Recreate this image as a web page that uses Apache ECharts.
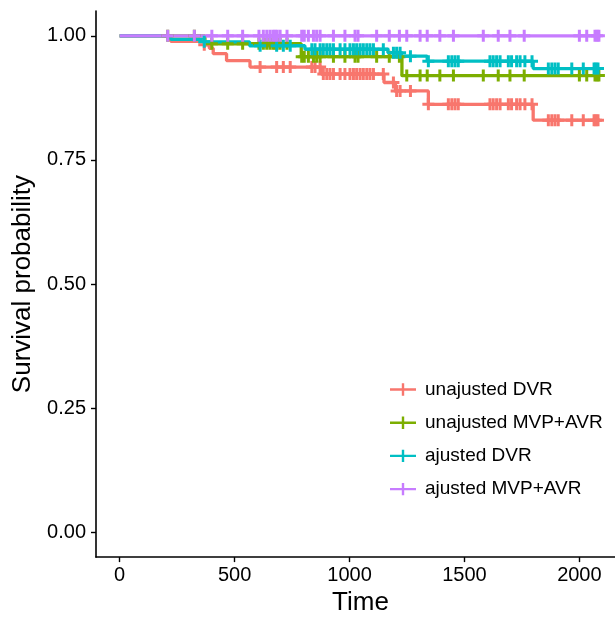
<!DOCTYPE html>
<html>
<head>
<meta charset="utf-8">
<script src="https://cdn.jsdelivr.net/npm/echarts@6/dist/echarts.min.js"></script>
<style>
html,body{margin:0;padding:0;background:#fff;overflow:hidden;}
#c{width:615px;height:621px;}
</style>
</head>
<body>
<div id="c"></div>
<script>
// Kaplan-Meier style step curves (time at which the new value starts, survival)
const seriesNames = ['unajusted DVR', 'unajusted MVP+AVR', 'ajusted DVR', 'ajusted MVP+AVR'];
const seriesColors = ['#F8766D', '#7CAE00', '#00BFC4', '#C77CFF'];

const redTimes = [0, 222, 368, 390, 407, 465, 567, 878, 1150, 1200, 1343, 1799, 2088];
const redSurv  = [1, 0.989, 0.982, 0.975, 0.964, 0.950, 0.937, 0.923, 0.906, 0.889, 0.862, 0.830, 0.830];

const greenTimes = [0, 371, 790, 1228, 2088];
const greenSurv  = [1, 0.984, 0.958, 0.920, 0.920];

const cyanTimes = [0, 222, 365, 565, 806, 1167, 1226, 1338, 1799, 2088];
const cyanSurv  = [1, 0.993, 0.988, 0.980, 0.973, 0.966, 0.959, 0.949, 0.934, 0.934];

const purpleTimes = [0, 2088];
const purpleSurv  = [1, 1];

// censoring times (shared by the unadjusted/adjusted curve of each group)
const dvrCensor = [368, 611, 683, 712, 742, 836, 850, 872, 886, 901, 915, 930, 959, 980, 1002, 1017, 1031, 1046, 1060, 1075, 1089, 1104, 1147, 1191, 1205, 1220, 1265, 1343, 1430, 1445, 1459, 1473, 1611, 1625, 1640, 1655, 1691, 1705, 1727, 1742, 1763, 1794, 1865, 1880, 1894, 1908, 1967, 2017, 2064, 2072, 2081];
const mvpCensor = [209, 325, 401, 470, 535, 606, 625, 640, 654, 667, 676, 685, 698, 728, 792, 803, 821, 843, 857, 872, 930, 980, 1024, 1037, 1118, 1173, 1217, 1249, 1307, 1338, 1393, 1452, 1582, 1647, 1698, 1760, 2000, 2032, 2068, 2077, 2085];

const xTicks = [0, 500, 1000, 1500, 2000];
const yTicks = [0, 0.25, 0.5, 0.75, 1];

function stepAt(times, surv, t) {
  let v = surv[0];
  for (let i = 0; i < times.length; i++) { if (times[i] <= t) v = surv[i]; }
  return v;
}
function zip(a, b) { return a.map((t, i) => [t, b[i]]); }

const curves = [
  [redTimes, redSurv, dvrCensor],
  [greenTimes, greenSurv, mvpCensor],
  [cyanTimes, cyanSurv, dvrCensor],
  [purpleTimes, purpleSurv, mvpCensor]
];

const plus = 'path://M-1.5,-6 h3 v4.5 h4.5 v3 h-4.5 v4.5 h-3 v-4.5 h-4.5 v-3 h4.5z';
const series = [];
curves.forEach((c, i) => {
  series.push({
    name: seriesNames[i], type: 'line', step: 'end', data: zip(c[0], c[1]),
    showSymbol: false, symbol: 'none', z: 2,
    lineStyle: { color: seriesColors[i], width: 3.3 }, itemStyle: { color: seriesColors[i] },
    silent: true, animation: false
  });
});
curves.forEach((c, i) => {
  series.push({
    name: 'censor_' + i, type: 'scatter', z: 3,
    data: c[2].map(t => [t, stepAt(c[0], c[1], t)]),
    symbol: plus, symbolSize: 12,
    itemStyle: { color: seriesColors[i], opacity: 1 },
    silent: true, animation: false
  });
});

const chart = echarts.init(document.getElementById('c'), null, { renderer: 'canvas' });
const font = 'Liberation Sans, Arial, sans-serif';
chart.setOption({
  backgroundColor: '#ffffff',
  animation: false,
  grid: { left: 96, right: 0, top: 11, bottom: 58, containLabel: false },
  xAxis: {
    type: 'value', min: -103, max: 2155,
    name: 'Time', nameLocation: 'middle', nameGap: 31,
    nameTextStyle: { fontSize: 26, color: '#000', fontFamily: font, padding: [0, 0, 0, 10] },
    axisLine: { onZero: false, lineStyle: { color: '#000', width: 1.6 } },
    axisTick: { show: true, length: 5, lineStyle: { color: '#000', width: 1.4 }, customValues: xTicks },
    axisLabel: { customValues: xTicks, fontSize: 20, color: '#000', fontFamily: font, margin: 8,
      formatter: v => String(v) },
    splitLine: { show: false }
  },
  yAxis: {
    type: 'value', min: -0.05, max: 1.05,
    name: 'Survival probability', nameLocation: 'middle', nameGap: 58,
    nameTextStyle: { fontSize: 26, color: '#000', fontFamily: font },
    axisLine: { onZero: false, lineStyle: { color: '#000', width: 1.6 } },
    axisTick: { show: true, length: 5, lineStyle: { color: '#000', width: 1.4 }, customValues: yTicks },
    axisLabel: { customValues: yTicks, fontSize: 20, color: '#000', fontFamily: font, margin: 10,
      formatter: v => v.toFixed(2) },
    splitLine: { show: false }
  },
  legend: {
    data: seriesNames, orient: 'vertical', left: 385, top: 374.5,
    icon: 'path://M0,5 h26 v2.4 h-26z M11.8,0 h2.4 v12.4 h-2.4z',
    itemWidth: 26, itemHeight: 12.4, itemGap: 13.2,
    textStyle: { fontSize: 19, color: '#000', fontFamily: font, lineHeight: 20, padding: [0, 0, 0, 4] },
    selectedMode: false
  },
  series: series
});
</script>
</body>
</html>
